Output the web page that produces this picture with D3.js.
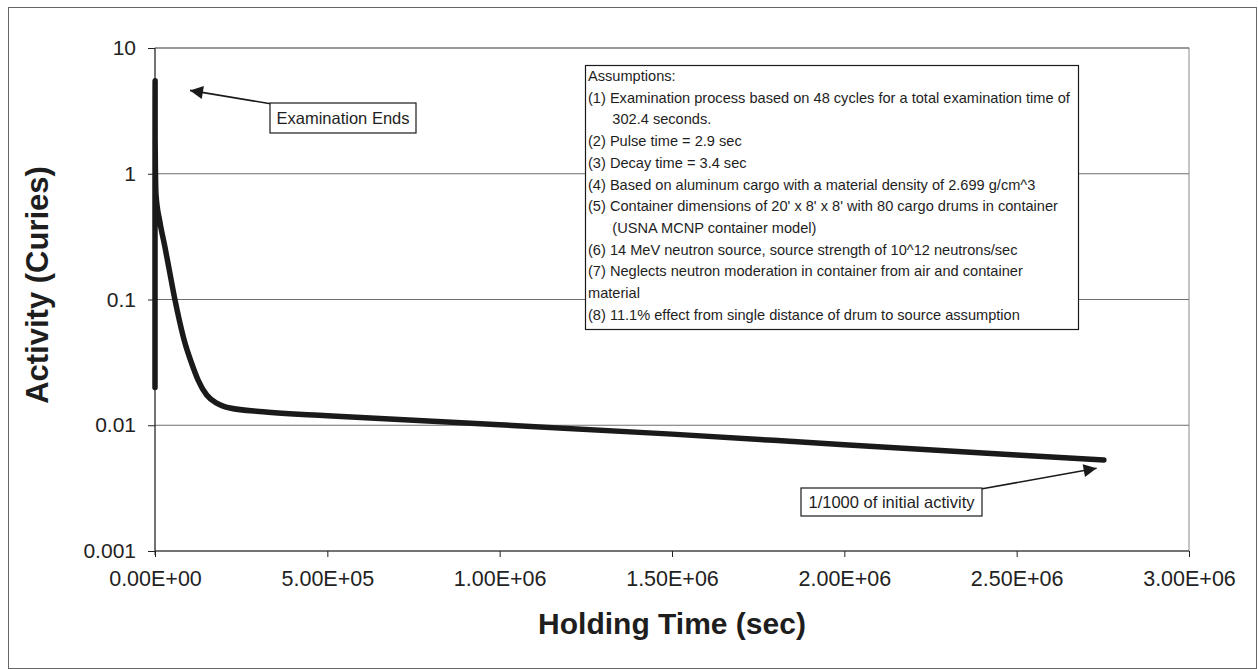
<!DOCTYPE html>
<html>
<head>
<meta charset="utf-8">
<script src="https://cdn.jsdelivr.net/npm/d3@7/dist/d3.min.js"></script>
<style>
  html, body { margin: 0; padding: 0; background: #fff; }
  svg { display: block; font-family: "Liberation Sans", Arial, sans-serif; }
</style>
</head>
<body>
<svg id="chart" width="1258" height="669"></svg>
<script>
// Holding time after examination (s) and induced activity (Ci)
const timeSec = [0, 2.9, 6.3, 151.2, 154.1, 299.5, 302.4,
  2900, 14500, 29000, 43500, 58000, 72500, 87000, 106500, 124700,
  150000, 179000, 217600, 313000, 500000, 1000000, 1500000, 2000000, 2500000, 2753000];
const activityCi = [0.02, 0.95, 0.31, 4.3, 1.5, 5.5, 2.0,
  0.68, 0.41, 0.26, 0.16, 0.099, 0.065, 0.045, 0.031, 0.023,
  0.0174, 0.0150, 0.0137, 0.0128, 0.0119, 0.0101, 0.0085, 0.0070, 0.0058, 0.0053];

const xTicks = [0, 5e5, 1e6, 1.5e6, 2e6, 2.5e6, 3e6];
const xTickLabels = ["0.00E+00", "5.00E+05", "1.00E+06", "1.50E+06", "2.00E+06", "2.50E+06", "3.00E+06"];
const yTicks = [0.001, 0.01, 0.1, 1, 10];
const yTickLabels = ["0.001", "0.01", "0.1", "1", "10"];

const assumptions = [
  "Assumptions:",
  "(1) Examination process based on 48 cycles for a total examination time of",
  "      302.4 seconds.",
  "(2) Pulse time = 2.9 sec",
  "(3) Decay time = 3.4 sec",
  "(4) Based on aluminum cargo with a material density of 2.699 g/cm^3",
  "(5) Container dimensions of 20' x 8' x 8' with 80 cargo drums in container",
  "      (USNA MCNP container model)",
  "(6) 14 MeV neutron source, source strength of 10^12 neutrons/sec",
  "(7) Neglects neutron moderation in container from air and container",
  "material",
  "(8) 11.1% effect from single distance of drum to source assumption"
];

// Callout anchors in data units: [time, activity]
const examEndsTip = [101500, 4.6];
const thousandthTip = [2732000, 0.00455];

const svg = d3.select("#chart");
const plot = { left: 155, right: 1189, top: 48, bottom: 551 };

const x = d3.scaleLinear().domain([0, 3e6]).range([plot.left, plot.right]);
const y = d3.scaleLog().domain([0.001, 10]).range([plot.bottom, plot.top]);

// outer chart frame
svg.append("rect")
  .attr("x", 8.5).attr("y", 7.5).attr("width", 1248).attr("height", 661)
  .attr("fill", "none").attr("stroke", "#666").attr("stroke-width", 1);

// plot area border
svg.append("rect")
  .attr("x", plot.left).attr("y", plot.top)
  .attr("width", plot.right - plot.left).attr("height", plot.bottom - plot.top)
  .attr("fill", "none").attr("stroke", "#8a8a8a").attr("stroke-width", 1);

// horizontal gridlines
svg.append("g").selectAll("line").data(yTicks.slice(1)).join("line")
  .attr("x1", plot.left).attr("x2", plot.right)
  .attr("y1", d => y(d)).attr("y2", d => y(d))
  .attr("stroke", "#6e6e6e").attr("stroke-width", 1);

// y axis
const yAxis = d3.axisLeft(y).tickValues(yTicks)
  .tickFormat((d, i) => yTickLabels[i]).tickSize(7).tickPadding(12);
const gy = svg.append("g").attr("transform", `translate(${plot.left},0)`).call(yAxis);
gy.select(".domain").attr("stroke", "#222").attr("d", `M0,${plot.top}V${plot.bottom + 4}`);
gy.selectAll(".tick line").attr("stroke", "#222");
gy.selectAll(".tick text").attr("fill", "#222").attr("font-size", 21)
  .attr("font-family", "Liberation Sans, Arial, sans-serif");

// x axis
const xAxis = d3.axisBottom(x).tickValues(xTicks)
  .tickFormat((d, i) => xTickLabels[i]).tickSize(6).tickPadding(14);
const gx = svg.append("g").attr("transform", `translate(0,${plot.bottom})`).call(xAxis);
gx.select(".domain").attr("stroke", "#222").attr("d", `M${plot.left},0H${plot.right}`);
gx.selectAll(".tick line").attr("stroke", "#222");
gx.selectAll(".tick text").attr("fill", "#222").attr("font-size", 21.5)
  .attr("font-family", "Liberation Sans, Arial, sans-serif");

// axis titles
svg.append("text")
  .attr("x", 672).attr("y", 634)
  .attr("text-anchor", "middle")
  .attr("font-size", 30).attr("font-weight", "bold").attr("fill", "#1e1e1e")
  .text("Holding Time (sec)");

svg.append("text")
  .attr("transform", "translate(48,285) rotate(-90)")
  .attr("text-anchor", "middle")
  .attr("font-size", 31).attr("font-weight", "bold").attr("fill", "#1e1e1e")
  .text("Activity (Curies)");

// activity curve
const series = timeSec.map((t, i) => ({ t, a: activityCi[i] }));
const line = d3.line().x(d => x(d.t)).y(d => y(d.a)).curve(d3.curveMonotoneX);
svg.append("path")
  .datum(series)
  .attr("d", line)
  .attr("fill", "none")
  .attr("stroke", "#1a1a1a")
  .attr("stroke-width", 5.5)
  .attr("stroke-linejoin", "round")
  .attr("stroke-linecap", "round");

// arrowhead marker
svg.append("defs").append("marker")
  .attr("id", "arrowhead")
  .attr("viewBox", "0 0 10 10")
  .attr("refX", 10).attr("refY", 5)
  .attr("markerWidth", 17).attr("markerHeight", 13)
  .attr("markerUnits", "userSpaceOnUse")
  .attr("orient", "auto")
  .append("path").attr("d", "M0,0L10,5L0,10Z").attr("fill", "#1a1a1a");

function callout(box, label, fromX, fromY, tip) {
  svg.append("line")
    .attr("x1", fromX).attr("y1", fromY)
    .attr("x2", x(tip[0])).attr("y2", y(tip[1]))
    .attr("stroke", "#1a1a1a").attr("stroke-width", 1.6)
    .attr("marker-end", "url(#arrowhead)");
  svg.append("rect")
    .attr("x", box.x).attr("y", box.y).attr("width", box.w).attr("height", box.h)
    .attr("fill", "#fff").attr("stroke", "#1a1a1a").attr("stroke-width", 1.2);
  svg.append("text")
    .attr("x", box.x + box.w / 2).attr("y", box.y + box.h / 2)
    .attr("text-anchor", "middle").attr("dominant-baseline", "central")
    .attr("font-size", 16.5).attr("fill", "#1e1e1e")
    .text(label);
}

callout({ x: 270, y: 103, w: 146, h: 30 }, "Examination Ends", 272, 104, examEndsTip);
callout({ x: 801, y: 488, w: 181, h: 28 }, "1/1000 of initial activity", 981, 489, thousandthTip);

// assumptions text box
const note = svg.append("g");
note.append("rect")
  .attr("x", 585.5).attr("y", 65.5).attr("width", 493).attr("height", 264)
  .attr("fill", "#fff").attr("stroke", "#1a1a1a").attr("stroke-width", 1.2);
note.selectAll("text").data(assumptions).join("text")
  .attr("x", 588).attr("y", (d, i) => 76 + i * 21.7)
  .attr("dominant-baseline", "central")
  .attr("font-size", 14.6).attr("fill", "#1e1e1e")
  .attr("xml:space", "preserve")
  .style("white-space", "pre")
  .text(d => d);
</script>
</body>
</html>
